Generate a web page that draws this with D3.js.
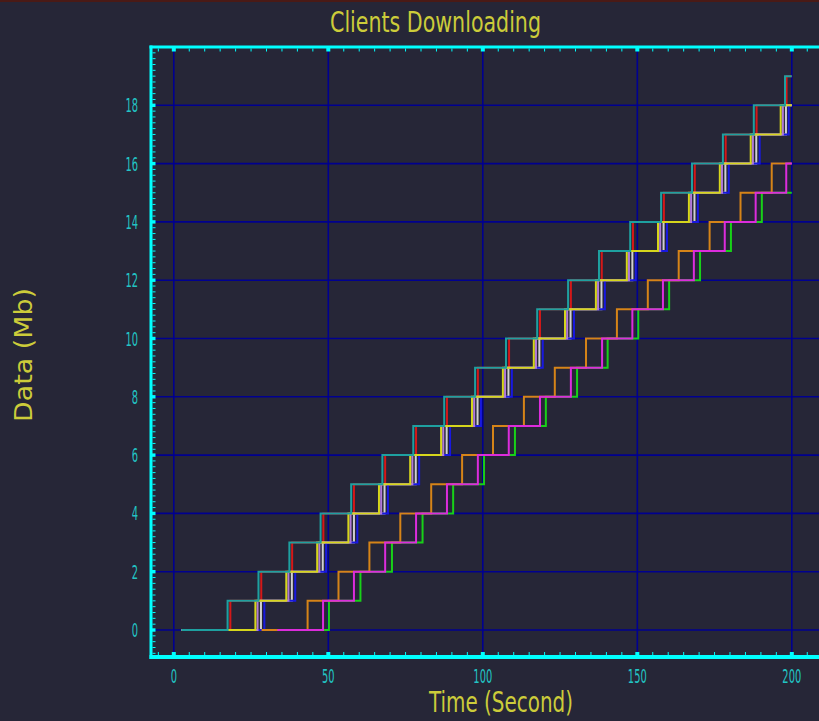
<!DOCTYPE html>
<html>
<head>
<meta charset="utf-8">
<script src="https://cdn.jsdelivr.net/npm/d3@7"></script>
<style>
  html, body { margin: 0; padding: 0; background: #262637; }
  svg { display: block; }
</style>
</head>
<body>
<div id="container"></div>
<script>
const canvasWidth = 819;
const canvasHeight = 721;

// tick labels
const xTicks = [0, 50, 100, 150, 200];
const yTicks = [0, 2, 4, 6, 8, 10, 12, 14, 16, 18];

// every client: time it starts at 0 Mb, then the times (s) it finished each next Mb
const clientNames = ['red', 'white', 'blue', 'lavender', 'yellow', 'teal', 'green', 'orange', 'magenta'];
const clientStart = [2.5, 2.5, 2.5, 2.5, 2.5, 2.5, 38.5, 28.4, 33.5];
const endTime = 200;

const tealSteps = [17.4, 27.4, 37.4, 47.5, 57.4, 67.5, 77.5, 87.5, 97.5, 107.5, 117.6, 127.6, 137.6, 147.7, 157.7, 167.7, 177.7, 187.7, 197.8];
const redSteps = [18.3, 28.3, 38.3, 48.4, 58.3, 68.4, 78.4, 88.4, 98.4, 108.5, 118.5, 128.5, 138.5, 148.6, 158.6, 168.6, 178.6, 188.6, 198.3];
const yellowSteps = [26.4, 36.4, 46.4, 56.5, 66.4, 76.5, 86.5, 96.5, 106.5, 116.5, 126.6, 136.6, 146.6, 156.7, 166.7, 176.7, 186.7, 196.4];
const lavenderSteps = [27.1, 37.1, 47.1, 57.2, 67.1, 77.2, 87.2, 97.2, 107.2, 117.2, 127.3, 137.3, 147.3, 157.4, 167.4, 177.4, 187.4, 197.1];
const whiteSteps = [28.2, 38.2, 48.2, 58.3, 68.2, 78.3, 88.3, 98.3, 108.3, 118.3, 128.4, 138.4, 148.4, 158.5, 168.5, 178.5, 188.5, 198.1];
const blueSteps = [29.3, 39.3, 49.3, 59.4, 69.3, 79.4, 89.4, 99.4, 109.4, 119.4, 129.5, 139.5, 149.5, 159.6, 169.6, 179.6, 189.6, 199.0];
const orangeSteps = [43.3, 53.3, 63.3, 73.3, 83.3, 93.3, 103.3, 113.3, 123.3, 133.4, 143.4, 153.4, 163.4, 173.4, 183.4, 193.5];
const magentaSteps = [48.3, 58.3, 68.4, 78.4, 88.4, 98.4, 108.4, 118.5, 128.5, 138.6, 148.4, 158.3, 168.3, 178.3, 188.3, 198.2];
const greenSteps = [50.2, 60.4, 70.6, 80.5, 90.4, 100.4, 110.4, 120.4, 130.5, 140.4, 150.3, 160.3, 170.3, 180.3, 190.3];

const clientSteps = {
  'red': redSteps, 'white': whiteSteps, 'blue': blueSteps, 'lavender': lavenderSteps,
  'yellow': yellowSteps, 'teal': tealSteps, 'green': greenSteps,
  'orange': orangeSteps, 'magenta': magentaSteps
};

// client colour
const cc = {
  'red': '#d41818',
  'white': '#d0d0d0',
  'blue': '#1818e0',
  'lavender': '#b07ad8',
  'yellow': '#d6d61c',
  'teal': '#1ea0a0',
  'green': '#18d018',
  'orange': '#d68418',
  'magenta': '#dc2cdc'
};

const bg = '#262637';
const axisColor = '#00ffff';
const gridColor = '#000090';
const labelColor = '#22c4c4';
const titleColor = '#cccc3a';

const plotLeft = 151, plotRight = 819, plotTop = 47, plotBottom = 657;

let x = d3.scaleLinear().domain([-7.38, 208.8]).range([plotLeft, plotRight]);
let y = d3.scaleLinear().domain([-0.926, 20]).range([plotBottom, plotTop]);

let svg = d3.select('#container')
  .append('svg')
  .attr('width', canvasWidth)
  .attr('height', canvasHeight)
  .style('background', bg);

// thin dark red strip at the very top
svg.append('rect')
  .attr('x', 0).attr('y', 0)
  .attr('width', canvasWidth).attr('height', 2)
  .style('fill', '#4a1a16');

// grid
let grid = svg.append('g');
grid.selectAll('.gx').data(xTicks).enter()
  .append('line')
  .attr('x1', d => x(d)).attr('x2', d => x(d))
  .attr('y1', plotTop).attr('y2', plotBottom)
  .style('stroke', gridColor).style('stroke-width', 1.6);
grid.selectAll('.gy').data(yTicks).enter()
  .append('line')
  .attr('x1', plotLeft).attr('x2', plotRight)
  .attr('y1', d => y(d)).attr('y2', d => y(d))
  .style('stroke', gridColor).style('stroke-width', 1.6);

// step lines
let line = d3.line()
  .x(d => x(d[0]))
  .y(d => y(d[1]))
  .curve(d3.curveStepAfter);

function clientPoints(name, i) {
  let steps = clientSteps[name];
  let pts = [[clientStart[i], 0]];
  steps.forEach((t, k) => pts.push([t, k + 1]));
  pts.push([endTime, steps.length]);
  return pts;
}

svg.append('g').selectAll('.client').data(clientNames).enter()
  .append('path')
  .attr('class', 'client')
  .attr('d', (d, i) => line(clientPoints(d, i)))
  .style('fill', 'none')
  .style('stroke', d => cc[d])
  .style('stroke-width', 2)
  .style('stroke-linejoin', 'miter');

// frame
let frame = svg.append('g');
frame.append('line').attr('x1', plotLeft).attr('x2', plotLeft).attr('y1', plotTop - 1.5).attr('y2', plotBottom + 2)
  .style('stroke', axisColor).style('stroke-width', 3);
frame.append('line').attr('x1', plotLeft - 1.5).attr('x2', plotRight).attr('y1', plotTop).attr('y2', plotTop)
  .style('stroke', axisColor).style('stroke-width', 3);
frame.append('line').attr('x1', plotLeft - 1.5).attr('x2', plotRight).attr('y1', plotBottom).attr('y2', plotBottom)
  .style('stroke', axisColor).style('stroke-width', 4);

// minor ticks
let xMinor = d3.range(-5, 210, 5).filter(v => xTicks.indexOf(v) < 0);
let yMinor = d3.range(-4, 101, 1).map(v => v / 5).filter(v => yTicks.indexOf(v) < 0 && v > -0.926 && v < 20);

frame.selectAll('.xmb').data(xMinor).enter().append('line')
  .attr('x1', d => x(d)).attr('x2', d => x(d))
  .attr('y1', plotBottom - 2).attr('y2', plotBottom - 5)
  .style('stroke', axisColor).style('stroke-width', 1);
frame.selectAll('.xmt').data(xMinor).enter().append('line')
  .attr('x1', d => x(d)).attr('x2', d => x(d))
  .attr('y1', plotTop + 1.5).attr('y2', plotTop + 4.5)
  .style('stroke', axisColor).style('stroke-width', 1);
frame.selectAll('.ym').data(yMinor).enter().append('line')
  .attr('x1', plotLeft + 1.5).attr('x2', plotLeft + 4.5)
  .attr('y1', d => y(d)).attr('y2', d => y(d))
  .style('stroke', axisColor).style('stroke-width', 1);

// major tick squares
frame.selectAll('.xMb').data(xTicks).enter().append('rect')
  .attr('x', d => x(d) - 2).attr('y', plotBottom - 5)
  .attr('width', 4).attr('height', 4)
  .style('fill', axisColor);
frame.selectAll('.xMt').data(xTicks).enter().append('rect')
  .attr('x', d => x(d) - 2).attr('y', plotTop + 1)
  .attr('width', 4).attr('height', 3.5)
  .style('fill', axisColor);
frame.selectAll('.yM').data(yTicks).enter().append('rect')
  .attr('x', plotLeft + 1).attr('y', d => y(d) - 1.7)
  .attr('width', 3.5).attr('height', 3.4)
  .style('fill', axisColor);

// tick labels
const font = '"Liberation Sans Narrow", "DejaVu Sans Condensed", "DejaVu Sans", sans-serif';

svg.selectAll('.xl').data(xTicks).enter().append('text')
  .text(d => d)
  .attr('x', d => x(d))
  .attr('y', 683)
  .attr('text-anchor', 'middle')
  .attr('textLength', d => String(d).length * 6.3)
  .attr('lengthAdjust', 'spacingAndGlyphs')
  .style('font-family', font).style('font-size', '19px')
  .style('fill', labelColor);

svg.selectAll('.yl').data(yTicks).enter().append('text')
  .text(d => d)
  .attr('x', 138)
  .attr('y', d => y(d) + 7)
  .attr('text-anchor', 'end')
  .attr('textLength', d => String(d).length * 6.3)
  .attr('lengthAdjust', 'spacingAndGlyphs')
  .style('font-family', font).style('font-size', '19px')
  .style('fill', labelColor);

// titles
svg.append('text')
  .text('Clients Downloading')
  .attr('x', 435.5).attr('y', 32)
  .attr('text-anchor', 'middle')
  .attr('textLength', 211)
  .attr('lengthAdjust', 'spacingAndGlyphs')
  .style('font-family', font).style('font-size', '29px')
  .style('fill', titleColor);

svg.append('text')
  .text('Time (Second)')
  .attr('x', 501).attr('y', 712)
  .attr('text-anchor', 'middle')
  .attr('textLength', 144)
  .attr('lengthAdjust', 'spacingAndGlyphs')
  .style('font-family', font).style('font-size', '29px')
  .style('fill', titleColor);

svg.append('text')
  .text('Data (Mb)')
  .attr('transform', 'translate(32,355) rotate(-90)')
  .attr('text-anchor', 'middle')
  .attr('textLength', 134)
  .attr('lengthAdjust', 'spacingAndGlyphs')
  .style('font-family', font).style('font-size', '25px')
  .style('fill', titleColor);
</script>
</body>
</html>
